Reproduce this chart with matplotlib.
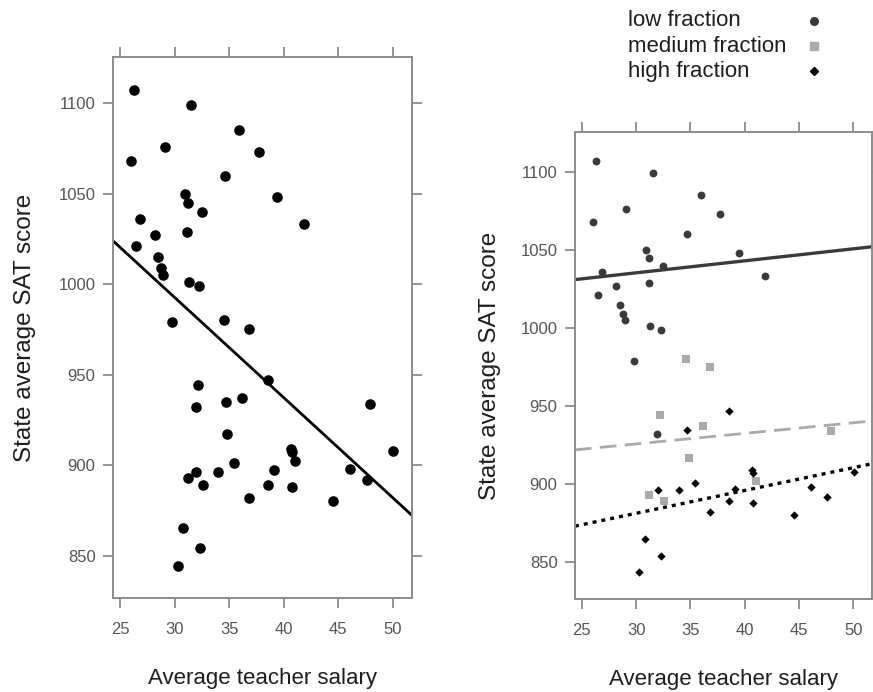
import numpy as np
import matplotlib.pyplot as plt

plt.rcParams['font.family'] = ['Liberation Sans', 'DejaVu Sans']

# SAT data by state: salary (k$), SAT total, % taking the test
salary = [31.144, 47.951, 32.175, 28.934, 41.078, 34.571, 50.045, 39.076, 32.588, 32.291,
          38.518, 29.783, 39.431, 36.785, 31.511, 34.652, 32.257, 26.461, 31.972, 40.661,
          40.795, 41.895, 35.948, 26.818, 31.189, 28.785, 30.922, 34.836, 34.720, 46.087,
          28.493, 47.612, 30.793, 26.327, 36.802, 28.172, 38.555, 44.510, 40.729, 30.279,
          25.994, 32.477, 31.223, 29.082, 35.406, 33.987, 36.151, 31.944, 37.746, 31.285]
sat = [1029, 934, 944, 1005, 902, 980, 908, 897, 889, 854,
       889, 979, 1048, 882, 1099, 1060, 999, 1021, 896, 909,
       907, 1033, 1085, 1036, 1045, 1009, 1050, 917, 935, 898,
       1015, 892, 865, 1107, 975, 1027, 947, 880, 888, 844,
       1068, 1040, 893, 1076, 901, 896, 937, 932, 1073, 1001]
frac = [8, 47, 27, 6, 45, 29, 81, 68, 48, 65,
        57, 15, 13, 58, 5, 9, 11, 9, 68, 64,
        80, 11, 9, 4, 9, 21, 9, 30, 70, 70,
        11, 74, 60, 5, 23, 9, 51, 70, 70, 58,
        5, 12, 47, 4, 68, 65, 48, 17, 9, 10]

groups = ["low fraction", "medium fraction", "high fraction"]
breaks = [0, 22, 49, 81]

x = np.array(salary, dtype=float)
y = np.array(sat, dtype=float)
f = np.array(frac)
grp = np.digitize(f, breaks[1:-1], right=True)

xlim = (24.36, 51.75)
ylim = (826.5, 1125.5)
frame_col = "#8c8c8c"
tick_lab_col = "#555555"
lab_col = "#1e1e1e"

fig = plt.figure(figsize=(8.73, 6.92), dpi=100)
ax1 = fig.add_axes([0.1294, 0.1358, 0.3425, 0.7818])
ax2 = fig.add_axes([0.6586, 0.1344, 0.3405, 0.6748])

for ax in (ax1, ax2):
    ax.set_xlim(*xlim)
    ax.set_ylim(*ylim)
    ax.set_xticks([25, 30, 35, 40, 45, 50])
    ax.set_yticks([850, 900, 950, 1000, 1050, 1100])
    ax.tick_params(direction="out", length=7.5, width=1.3, color=frame_col,
                   labelcolor=tick_lab_col, labelsize=12, top=True, right=True)
    ax.tick_params(axis="x", pad=10)
    ax.tick_params(axis="y", pad=5)
    for s in ax.spines.values():
        s.set_color(frame_col)
        s.set_linewidth(1.4)
    ax.set_xlabel("Average teacher salary", fontsize=16, color=lab_col)
    ax.set_ylabel("State average SAT score", fontsize=17.5, color=lab_col)

ax1.xaxis.set_label_coords(0.5, -0.13)
ax1.yaxis.set_label_coords(-0.256, 0.5)
ax2.xaxis.set_label_coords(0.5, -0.15)
ax2.yaxis.set_label_coords(-0.25, 0.5)

# left: all states, single fit
ax1.scatter(x, y, s=58, color="black", zorder=3, linewidths=0)
b1, b0 = np.polyfit(x, y, 1)
xx = np.array(xlim)
ax1.plot(xx, b0 + b1 * xx, color="black", lw=2)

# right: grouped by fraction taking the SAT
markers = ["o", "s", "D"]
colors = ["#3a3a3a", "#aaaaaa", "black"]
sizes = [32, 34, 18]
styles = [dict(ls="-", lw=2.4), dict(ls=(0, (6, 3)), lw=2.0), dict(ls=(0, (1.2, 1.5)), lw=2.4)]
for g in range(3):
    m = grp == g
    ax2.scatter(x[m], y[m], marker=markers[g], s=sizes[g], color=colors[g], zorder=3,
                linewidths=0)
    c1, c0 = np.polyfit(x[m], y[m], 1)
    ax2.plot(xx, c0 + c1 * xx, color=colors[g], **styles[g])

# legend in the top margin
for i, name in enumerate(groups):
    yy = 0.97 - i * 0.0365
    fig.text(0.719, yy, name, fontsize=16, color=lab_col, va="center", ha="left")
    fig.add_artist(plt.Line2D([0.932], [yy], marker=markers[i], markersize=5.5 if i != 2 else 4.5,
                              color=colors[i], transform=fig.transFigure, ls="none"))

fig.savefig("out.png", dpi=100)
